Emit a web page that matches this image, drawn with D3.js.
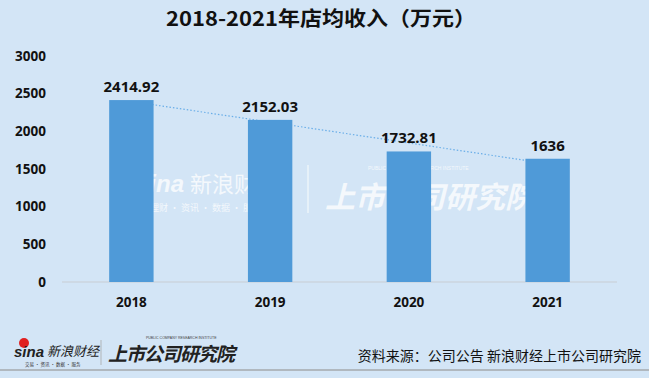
<!DOCTYPE html>
<html>
<head>
<meta charset="utf-8">
<script src="https://cdn.jsdelivr.net/npm/d3@7/dist/d3.min.js"></script>
<style>
body { margin:0; padding:0; background:#d3e5f6; }
svg { display:block; font-family:"Noto Sans CJK SC","Noto Sans",sans-serif; }
</style>
</head>
<body>
<div id="chart"></div>
<script>
var years = ["2018", "2019", "2020", "2021"];
var revenue = [2414.92, 2152.03, 1732.81, 1636];
var valueLabels = ["2414.92", "2152.03", "1732.81", "1636"];
var yTicks = [0, 500, 1000, 1500, 2000, 2500, 3000];

var width = 649, height = 378;
var svg = d3.select("#chart").append("svg").attr("width", width).attr("height", height);

svg.append("rect").attr("width", width).attr("height", height).attr("fill", "#d3e5f6");

// title
svg.append("text")
    .attr("x", 166).attr("y", 26)
    .attr("textLength", 310).attr("lengthAdjust", "spacingAndGlyphs")
    .attr("font-size", "20px").attr("font-weight", "bold")
    .attr("fill", "#111")
    .text("2018-2021年店均收入（万元）");

var x = d3.scaleBand().domain(years).range([62, 617]).paddingInner(0.68).paddingOuter(0.34);
var y = d3.scaleLinear().domain([0, 3000]).range([282, 56]);

// watermark (behind the bars)
var wm = svg.append("g").attr("fill", "#fff").attr("opacity", 0.75);
wm.append("text").attr("x", 136).attr("y", 192).attr("font-size", "24px").attr("font-style", "italic")
    .attr("font-weight", "bold").attr("font-family", "Liberation Sans, sans-serif").text("sina");
wm.append("text").attr("x", 190).attr("y", 192).attr("font-size", "22px").text("新浪财经");
wm.append("text").attr("x", 150).attr("y", 211).attr("font-size", "9px").text("理财 · 资讯 · 数据 · 服务");
wm.append("line").attr("x1", 308).attr("x2", 308).attr("y1", 165).attr("y2", 213)
    .attr("stroke", "#fff").attr("stroke-width", 1.2);
wm.append("text").attr("x", 325).attr("y", 208).attr("font-size", "30px").attr("font-style", "italic")
    .attr("font-weight", "bold").text("上市公司研究院");
wm.append("text").attr("x", 368).attr("y", 170).attr("font-size", "5px")
    .attr("font-family", "Liberation Sans, sans-serif").text("PUBLIC COMPANY RESEARCH INSTITUTE");

// baseline axis
svg.append("line").attr("x1", 62).attr("x2", 617).attr("y1", y(0)).attr("y2", y(0))
    .attr("stroke", "#c8cdd3").attr("stroke-width", 1);

// y axis labels
var yAxis = d3.axisLeft(y).tickValues(yTicks).tickFormat(d3.format("d")).tickSize(0).tickPadding(0);
var ya = svg.append("g").attr("transform", "translate(46,0)").call(yAxis);
ya.select(".domain").remove();
ya.selectAll("text").attr("font-size", "13.5px").attr("font-weight", "bold").attr("fill", "#111")
    .attr("font-family", "Noto Sans, sans-serif");

// linear trendline
var n = revenue.length;
var mx = d3.mean(revenue, function(d, i){ return i; });
var my = d3.mean(revenue);
var num = 0, den = 0;
revenue.forEach(function(d, i){ num += (i - mx) * (d - my); den += (i - mx) * (i - mx); });
var slope = num / den, intercept = my - slope * mx;
svg.append("line")
    .attr("x1", x(years[0]) + x.bandwidth() / 2).attr("y1", y(intercept))
    .attr("x2", x(years[n - 1]) + x.bandwidth() / 2).attr("y2", y(intercept + slope * (n - 1)))
    .attr("stroke", "#6aaee8").attr("stroke-width", 1.2).attr("stroke-dasharray", "1.5,2");

// bars
svg.selectAll("rect.bar").data(revenue).enter().append("rect")
    .attr("class", "bar")
    .attr("x", function(d, i){ return x(years[i]); })
    .attr("y", function(d){ return y(d); })
    .attr("width", x.bandwidth())
    .attr("height", function(d){ return y(0) - y(d); })
    .attr("fill", "#4f9ad8");

// value labels
svg.selectAll("text.val").data(revenue).enter().append("text")
    .attr("class", "val")
    .attr("x", function(d, i){ return x(years[i]) + x.bandwidth() / 2; })
    .attr("y", function(d){ return y(d) - 8; })
    .attr("text-anchor", "middle")
    .attr("font-size", "15px").attr("font-weight", "bold").attr("fill", "#111")
    .attr("font-family", "Noto Sans, sans-serif")
    .text(function(d, i){ return valueLabels[i]; });

// x axis labels
var xAxis = d3.axisBottom(x).tickSize(0).tickPadding(0);
var xa = svg.append("g").attr("transform", "translate(0,297)").call(xAxis);
xa.select(".domain").remove();
xa.selectAll("text").attr("font-size", "13.5px").attr("font-weight", "bold").attr("fill", "#111")
    .attr("font-family", "Noto Sans, sans-serif");

// footer logos
var ft = svg.append("g");
ft.append("circle").attr("cx", 24).attr("cy", 343).attr("r", 5).attr("fill", "#e02020");
ft.append("text").attr("x", 14).attr("y", 357).attr("font-size", "15px").attr("font-weight", "bold")
    .attr("font-style", "italic").attr("font-family", "Liberation Sans, sans-serif").attr("fill", "#222").text("sina");
ft.append("text").attr("x", 47).attr("y", 356).attr("font-size", "13px").attr("fill", "#222")
    .attr("font-style", "italic").text("新浪财经");
ft.append("text").attr("x", 25).attr("y", 366).attr("font-size", "4.5px").attr("fill", "#333").text("交易 · 资讯 · 数据 · 服务");
ft.append("line").attr("x1", 101).attr("x2", 101).attr("y1", 340).attr("y2", 365)
    .attr("stroke", "#aaa").attr("stroke-width", 0.8);
ft.append("text").attr("x", 108).attr("y", 361).attr("font-size", "19px").attr("font-weight", "bold")
    .attr("font-style", "italic").attr("fill", "#222").attr("letter-spacing", "-1").text("上市公司研究院");
ft.append("text").attr("x", 146).attr("y", 339).attr("font-size", "3.5px").attr("fill", "#444")
    .attr("font-family", "Liberation Sans, sans-serif").text("PUBLIC COMPANY RESEARCH INSTITUTE");

svg.append("text")
    .attr("x", 641).attr("y", 361)
    .attr("text-anchor", "end")
    .attr("font-size", "14px").attr("fill", "#111")
    .text("资料来源：公司公告 新浪财经上市公司研究院");

svg.append("line").attr("x1", 0).attr("x2", width).attr("y1", 370).attr("y2", 370)
    .attr("stroke", "#a5a8ac").attr("stroke-width", 1.5);
</script>
</body>
</html>
